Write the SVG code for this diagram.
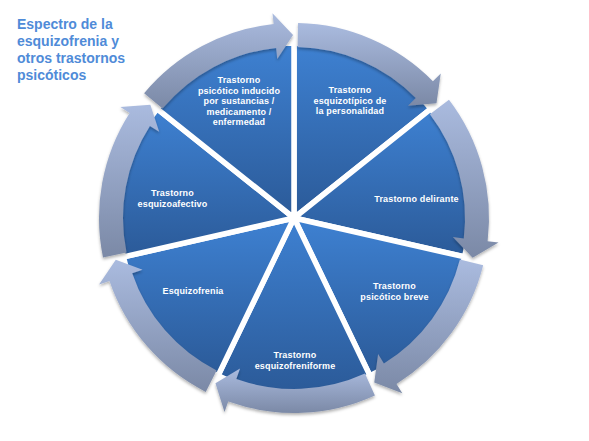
<svg xmlns="http://www.w3.org/2000/svg" width="589" height="441" viewBox="0 0 589 441">
<defs>
<linearGradient id="gSlice" x1="0" y1="0" x2="0" y2="1">
<stop offset="0" stop-color="#3e81d2"/>
<stop offset="1" stop-color="#2b5a98"/>
</linearGradient>
<linearGradient id="gArrow" x1="0" y1="0" x2="0" y2="1">
<stop offset="0" stop-color="#aabbdf"/>
<stop offset="1" stop-color="#7b89a6"/>
</linearGradient>
<filter id="sh" x="-20%" y="-20%" width="140%" height="140%">
<feDropShadow dx="0" dy="2" stdDeviation="1.8" flood-color="#000" flood-opacity="0.3"/>
</filter>
</defs>
<style>
.slice{fill:url(#gSlice);stroke:#fff;stroke-width:5.5;stroke-linejoin:miter}
.arrow{fill:url(#gArrow);filter:url(#sh)}
.lbl{font-family:"Liberation Sans",Arial,sans-serif;font-weight:bold;font-size:9px;fill:#fff;text-anchor:middle;letter-spacing:0.15px}
.title{font-family:"Liberation Sans",Arial,sans-serif;font-weight:bold;font-size:14px;fill:#4f8bd8}
</style>
<rect width="589" height="441" fill="#fff"/>
<g id="title">
<text class="title" x="17" y="28.5">Espectro de la</text>
<text class="title" x="17" y="45.7">esquizofrenia y</text>
<text class="title" x="17" y="62.9">otros trastornos</text>
<text class="title" x="17" y="80.1">psicóticos</text>
</g>
<g id="n-esquizotipico">
<path class="slice" d="M294 218 L294 43 A175 175 0 0 1 430.82 108.89 Z"/>
<text class="lbl" x="350" y="93">Trastorno</text>
<text class="lbl" x="350" y="103.5">esquizotípico de</text>
<text class="lbl" x="350" y="114">la personalidad</text>
</g>
<g id="n-delirante">
<path class="slice" d="M294 218 L430.82 108.89 A175 175 0 0 1 464.61 256.94 Z"/>
<text class="lbl" x="416.5" y="202">Trastorno delirante</text>
</g>
<g id="n-breve">
<path class="slice" d="M294 218 L464.61 256.94 A175 175 0 0 1 369.93 375.67 Z"/>
<text class="lbl" x="394.5" y="289">Trastorno</text>
<text class="lbl" x="394.5" y="299.5">psicótico breve</text>
</g>
<g id="n-esquizofreniforme">
<path class="slice" d="M294 218 L369.93 375.67 A175 175 0 0 1 218.07 375.67 Z"/>
<text class="lbl" x="295" y="358">Trastorno</text>
<text class="lbl" x="295" y="368.5">esquizofreniforme</text>
</g>
<g id="n-esquizofrenia">
<path class="slice" d="M294 218 L218.07 375.67 A175 175 0 0 1 123.39 256.94 Z"/>
<text class="lbl" x="193" y="293.5">Esquizofrenia</text>
</g>
<g id="n-esquizoafectivo">
<path class="slice" d="M294 218 L123.39 256.94 A175 175 0 0 1 157.18 108.89 Z"/>
<text class="lbl" x="172.5" y="196">Trastorno</text>
<text class="lbl" x="172.5" y="206.5">esquizoafectivo</text>
</g>
<g id="n-inducido">
<path class="slice" d="M294 218 L157.18 108.89 A175 175 0 0 1 294 43 Z"/>
<text class="lbl" x="239" y="83">Trastorno</text>
<text class="lbl" x="239" y="93.6">psicótico inducido</text>
<text class="lbl" x="239" y="104.2">por sustancias /</text>
<text class="lbl" x="239" y="114.8">medicamento /</text>
<text class="lbl" x="239" y="125.4">enfermedad</text>
</g>
<g id="connectors">
<path class="arrow" d="M298.08 23.04 A195 195 0 0 1 432.92 81.15 L440.75 73.43 L436.48 103.15 L407.98 105.71 L415.82 97.99 A171 171 0 0 0 297.58 47.04 Z"/>
<path class="arrow" d="M448.97 99.64 A195 195 0 0 1 487.61 241.28 L498.53 242.60 L472.62 257.79 L452.86 237.10 L463.78 238.42 A171 171 0 0 0 429.90 114.21 Z"/>
<path class="arrow" d="M483.16 265.36 A195 195 0 0 1 396.51 383.88 L402.29 393.24 L374.26 382.46 L378.11 354.11 L383.89 363.47 A171 171 0 0 0 459.88 259.53 Z"/>
<path class="arrow" d="M374.91 395.42 A195 195 0 0 1 228.22 401.57 L224.51 411.93 L215.46 383.29 L240.03 368.62 L236.32 378.98 A171 171 0 0 0 364.95 373.59 Z"/>
<path class="arrow" d="M205.73 391.88 A195 195 0 0 1 109.47 281.03 L99.06 284.58 L115.80 259.65 L142.59 269.71 L132.18 273.27 A171 171 0 0 0 216.59 370.48 Z"/>
<path class="arrow" d="M103.02 257.40 A195 195 0 0 1 129.67 113.02 L120.40 107.10 L150.33 104.65 L159.17 131.86 L149.90 125.94 A171 171 0 0 0 126.53 252.55 Z"/>
<path class="arrow" d="M144.12 93.25 A195 195 0 0 1 273.62 24.07 L272.47 13.13 L293.04 35.00 L277.28 58.88 L276.13 47.94 A171 171 0 0 0 162.57 108.60 Z"/>
</g>
</svg>
